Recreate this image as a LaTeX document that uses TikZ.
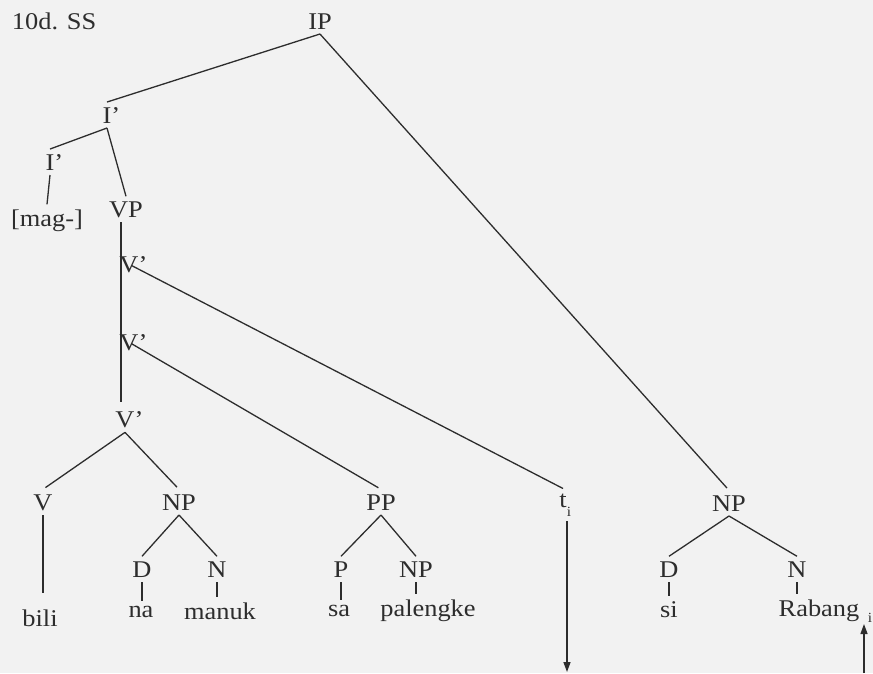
\documentclass[tikz,border=0pt]{standalone}
\usepackage{fontspec}
\setmainfont[FakeStretch=1.1]{Liberation Serif}
\usetikzlibrary{arrows.meta}
\definecolor{ink}{RGB}{45,45,45}
\definecolor{paper}{RGB}{242,242,242}
\begin{document}
\begin{tikzpicture}[x=1pt,y=-1pt,
  lab/.style={inner sep=0pt,outer xsep=0pt,outer ysep=5pt,anchor=base,text=ink,font=\fontsize{24}{28}\selectfont},
  sub/.style={inner sep=0pt,outer xsep=0pt,outer ysep=5pt,anchor=base,text=ink,font=\fontsize{14}{16}\selectfont},
  branch/.style={draw=ink,line width=1.3pt},
  arr/.style={branch,-{Triangle[length=10pt,width=7pt]}}]
\fill[paper] (0,0) rectangle (873,673);
\useasboundingbox (0,0) rectangle (873,673);
% labels
\node[lab,anchor=base west] (title) at (12,29) {10d. SS};
\node[lab] (IP) at (320,29) {IP};
\node[lab] (I1) at (107,123) {I\rlap{’}};
\node[lab] (I2) at (50,170) {I\rlap{’}};
\node[lab] (mag) at (47,226) {[mag-]};
\node[lab] (VP) at (126,217) {VP};
\node[lab] (V1) at (129,272) {V\rlap{’}};
\node[lab] (V2) at (129,350) {V\rlap{’}};
\node[lab] (V3) at (125,427) {V\rlap{’}};
\node[lab] (V) at (43,510) {V};
\node[lab] (NP1) at (179,510) {NP};
\node[lab] (PP) at (381,510) {PP};
\node[lab] (ti) at (563,507) {t};
\node[sub] (tisub) at (569,516) {i};
\node[lab] (NP2) at (729,511) {NP};
\node[lab] (D1) at (142,577) {D};
\node[lab] (N1) at (217,577) {N};
\node[lab] (P) at (341,577) {P};
\node[lab] (NP3) at (416,577) {NP};
\node[lab] (D2) at (669,577) {D};
\node[lab] (N2) at (797,577) {N};
\node[lab] (bili) at (40,626) {bili};
\node[lab] (na) at (141,617) {na};
\node[lab] (manuk) at (220,619) {manuk};
\node[lab] (sa) at (339,616) {sa};
\node[lab] (pal) at (428,616) {palengke};
\node[lab] (si) at (669,617) {si};
\node[lab] (Rab) at (819,616) {Rabang};
\node[sub] (Rsub) at (870,622) {i};
\coordinate (spine) at (121,0);
\coordinate (tbot) at (567,672);
\coordinate (rbot) at (864,673);
\coordinate (rtop) at (864,624);
% branches
\draw[branch] (IP.south) -- (I1.north);
\draw[branch,shorten >=3pt] (IP.south) -- (NP2.north);
\draw[branch] (I1.south) -- (I2.north);
\draw[branch] (I1.south) -- (VP.north);
\draw[branch] (I2.south) -- (mag.north);
\draw[branch,shorten >=4pt] (VP.south -| spine) -- (V3.north -| spine);
\draw[branch,shorten <=3pt] (V1.center) -- (ti.north);
\draw[branch,shorten <=3pt,shorten >=3pt] (V2.center) -- (PP.north);
\draw[branch,shorten >=3pt] (V3.south) -- (V.north);
\draw[branch,shorten >=3pt] (V3.south) -- (NP1.north);
\draw[branch,shorten >=11pt] (V.south) -- (V.south |- bili.north);
\draw[branch] (NP1.south) -- (D1.north);
\draw[branch] (NP1.south) -- (N1.north);
\draw[branch] (D1.south) -- (D1.south |- na.north);
\draw[branch] (N1.south) -- (N1.south |- manuk.north);
\draw[branch] (PP.south) -- (P.north);
\draw[branch] (PP.south) -- (NP3.north);
\draw[branch] (P.south) -- (P.south |- sa.north);
\draw[branch] (NP3.south) -- (NP3.south |- pal.north);
\draw[branch] (NP2.south) -- (D2.north);
\draw[branch] (NP2.south) -- (N2.north);
\draw[branch] (D2.south) -- (D2.south |- si.north);
\draw[branch] (N2.south) -- (N2.south |- Rab.north);
% movement arrows
\draw[arr] (tisub.south -| tbot) -- (tbot);
\draw[arr] (rbot) -- (rtop);
\end{tikzpicture}
\end{document}
